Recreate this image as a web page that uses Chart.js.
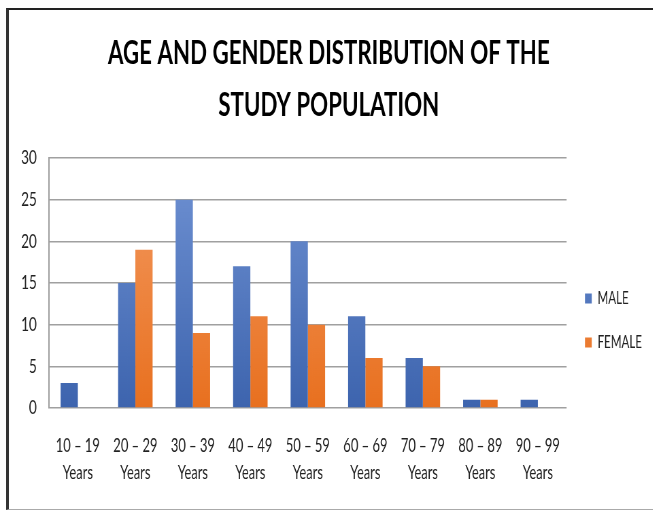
<!DOCTYPE html>
<html>
<head>
<meta charset="utf-8">
<script src="https://cdn.jsdelivr.net/npm/chart.js@4.4.1/dist/chart.umd.min.js"></script>
<style>
html,body{margin:0;padding:0;background:#fff;}
#wrap{position:relative;width:653px;height:510px;overflow:hidden;}
#frame{position:absolute;left:6px;top:8px;width:700px;height:499px;border-top:2px solid #222;border-left:3px solid #333;border-bottom:1px solid #aaa;pointer-events:none;}
#c{position:absolute;left:0;top:0;transform:scaleX(0.68);transform-origin:0 0;}
</style>
</head>
<body>
<div id="wrap">
<canvas id="c" width="960" height="510"></canvas>
<div id="frame"></div>
</div>
<script>
const categories = [
  ['10 – 19','Years'], ['20 – 29','Years'], ['30 – 39','Years'], ['40 – 49','Years'],
  ['50 – 59','Years'], ['60 – 69','Years'], ['70 – 79','Years'], ['80 – 89','Years'], ['90 – 99','Years']
];
const maleValues   = [3, 15, 25, 17, 20, 11, 6, 1, 1];
const femaleValues = [0, 19, 9, 11, 10, 6, 5, 1, 0];
const titleLines = ['AGE AND GENDER DISTRIBUTION OF THE', 'STUDY POPULATION'];
const seriesNames = ['MALE', 'FEMALE'];

const FONT = 'Lato, "Open Sans", sans-serif';

function grad(top, bottom) {
  return function(ctx) {
    const ch = ctx.chart;
    const a = ch.chartArea;
    if (!a) return bottom;
    const g = ch.ctx.createLinearGradient(0, a.top, 0, a.bottom);
    g.addColorStop(0, top);
    g.addColorStop(1, bottom);
    return g;
  };
}

new Chart(document.getElementById('c'), {
  type: 'bar',
  data: {
    labels: categories,
    datasets: [
      { label: seriesNames[0], data: maleValues, backgroundColor: grad('#7193d4', '#3d64ae') },
      { label: seriesNames[1], data: femaleValues, backgroundColor: grad('#f49c64', '#e8701f') }
    ]
  },
  options: {
    responsive: false,
    animation: false,
    devicePixelRatio: 1,
    categoryPercentage: 0.6,
    barPercentage: 1.0,
    layout: { padding: { left: 13, right: 6, top: 0, bottom: 8 } },
    plugins: {
      title: {
        display: true,
        text: titleLines,
        color: '#000',
        font: { family: FONT, size: 32.8, weight: 'bold', lineHeight: 1.57 },
        padding: { top: 28, bottom: 27 }
      },
      legend: {
        position: 'right',
        title: { display: true, text: ' ', font: { size: 10, lineHeight: 1 }, padding: { top: 129, bottom: 0 } },
        labels: {
          boxWidth: 10, boxHeight: 10, padding: 27,
          color: '#222',
          font: { family: FONT, size: 17 }
        }
      },
      tooltip: { enabled: false }
    },
    scales: {
      x: {
        grid: { display: false },
        border: { display: false },
        ticks: { color: '#222', font: { family: FONT, size: 19, lineHeight: 1.42 }, maxRotation: 0, autoSkip: false, padding: 16 }
      },
      y: {
        min: 0, max: 30,
        ticks: { stepSize: 5, color: '#222', font: { family: FONT, size: 20 }, padding: 18 },
        grid: { color: '#a0a0a0', lineWidth: 1.5, drawTicks: false },
        border: { display: true, color: '#a0a0a0', width: 2 }
      }
    }
  }
});
</script>
</body>
</html>
